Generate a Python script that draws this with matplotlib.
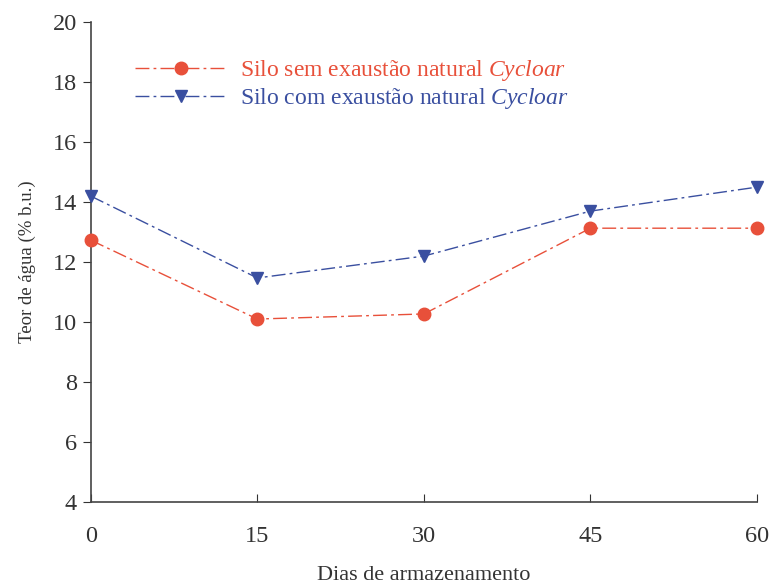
import matplotlib.pyplot as plt
from matplotlib.lines import Line2D

plt.rcParams['font.family'] = ['Liberation Serif', 'DejaVu Serif']
plt.rcParams['mathtext.fontset'] = 'custom'
plt.rcParams['mathtext.rm'] = 'Liberation Serif'
plt.rcParams['mathtext.it'] = 'Liberation Serif:italic'

dias = [0, 15, 30, 45, 60]
sem_exaustao = [12.73, 10.10, 10.27, 13.13, 13.13]
com_exaustao = [14.20, 11.47, 12.20, 13.70, 14.50]

red = '#e8503a'
blue = '#3a4fa0'
dash = (10, 3, 2, 3)

fig = plt.figure(figsize=(7.7, 5.85), dpi=100)
ax = fig.add_axes([0.118, 0.142, 0.865, 0.82])

ax.plot(dias, sem_exaustao, color=red, lw=1.0, dashes=dash,
        marker='o', ms=9, mec=red, mfc=red, clip_on=False, zorder=3)
ax.plot(dias, com_exaustao, color=blue, lw=1.0, dashes=dash,
        marker='v', ms=9, mec=blue, mfc=blue, clip_on=False, zorder=3)

ax.set_xlim(0, 60)
ax.set_ylim(4, 20)
ax.set_xticks(dias)
ax.set_yticks(range(4, 21, 2))
ax.tick_params(axis='x', direction='in', length=6, labelsize=17.5, pad=17, color='#333333',
               labelcolor='#333333')
ax.tick_params(axis='y', direction='out', length=6, labelsize=17.5, pad=4, color='#333333',
               labelcolor='#333333')
for s in ['top', 'right']:
    ax.spines[s].set_visible(False)
for s in ['left', 'bottom']:
    ax.spines[s].set_color('#444444')
    ax.spines[s].set_linewidth(1.2)

ax.set_xlabel('Dias de armazenamento', fontsize=16, labelpad=14, color='#333333')
ax.set_ylabel('Teor de água (% b.u.)', fontsize=13.5, labelpad=12, color='#333333')

handles = [
    Line2D([], [], color=red, lw=1.0, dashes=dash, marker='o', ms=9, mfc=red, mec=red),
    Line2D([], [], color=blue, lw=1.0, dashes=dash, marker='v', ms=9, mfc=blue, mec=blue),
]
labels = [r'Silo sem exaustão natural $\mathit{Cycloar}$',
          r'Silo com exaustão natural $\mathit{Cycloar}$']
leg = ax.legend(handles, labels, loc='upper left', bbox_to_anchor=(0.035, 0.97),
                frameon=False, fontsize=17, handlelength=3.9, handletextpad=0.55,
                labelspacing=0.15)
for t, c in zip(leg.get_texts(), [red, blue]):
    t.set_color(c)

fig.savefig('out.png', dpi=100)
